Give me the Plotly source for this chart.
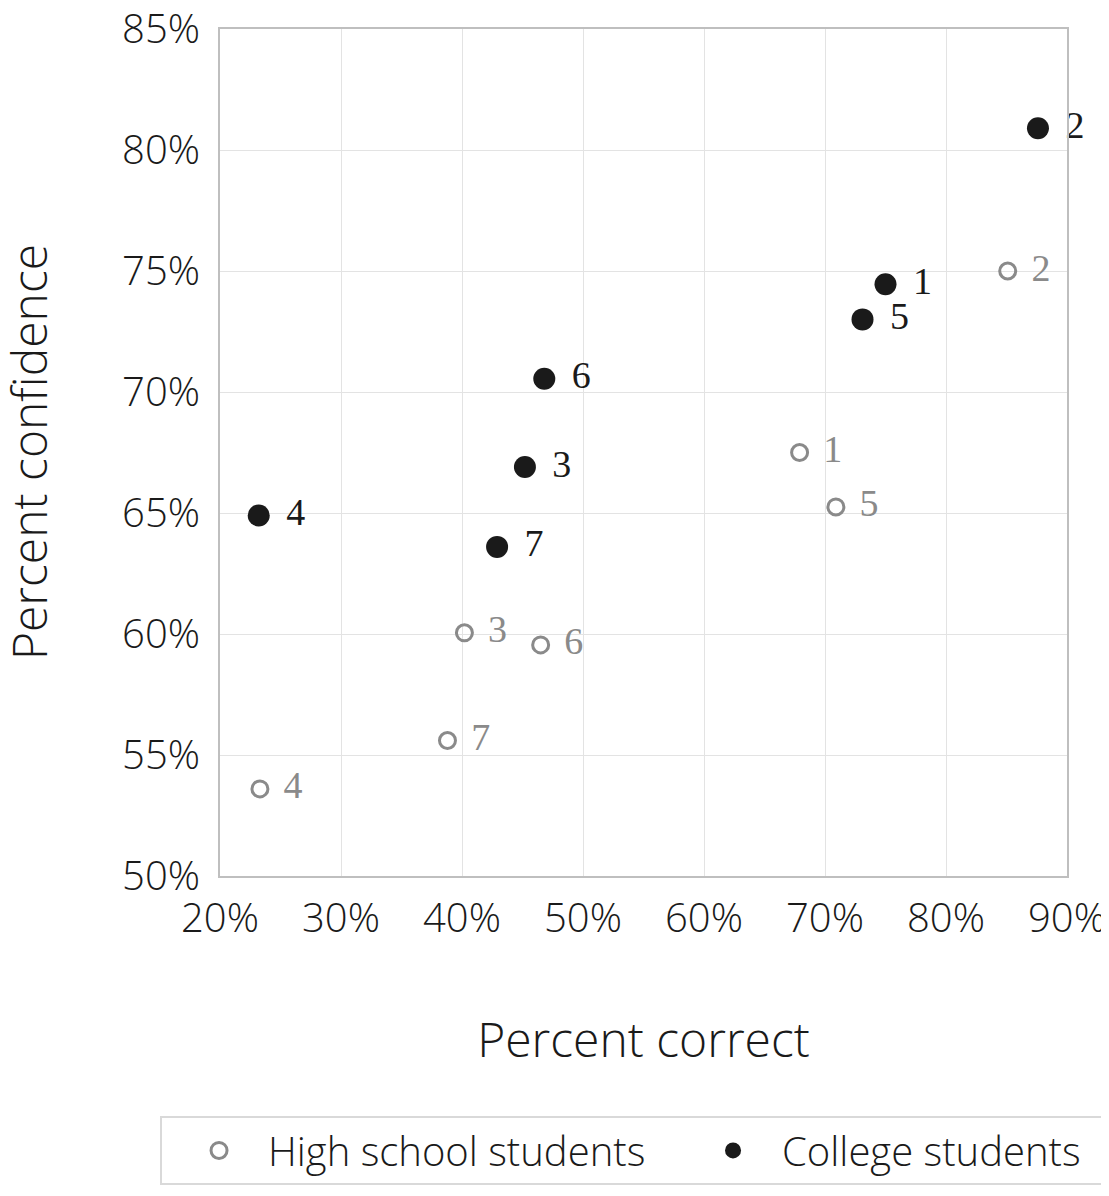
import plotly.graph_objects as go

point_labels = ["1", "2", "3", "4", "5", "6", "7"]

hs_correct = [67.9, 85.1, 40.2, 23.3, 70.9, 46.5, 38.8]
hs_confidence = [67.5, 75.0, 60.05, 53.6, 65.25, 59.55, 55.6]

col_correct = [75.0, 87.6, 45.2, 23.2, 73.1, 46.8, 42.9]
col_confidence = [74.45, 80.9, 66.9, 64.9, 73.0, 70.55, 63.6]

x_ticks = [20, 30, 40, 50, 60, 70, 80, 90]
y_ticks = [50, 55, 60, 65, 70, 75, 80, 85]

GRAY = "#8a8a8a"
BLACK = "#1a1a1a"
SP = "\u2004"
TICK_FONT = dict(family="Open Sans", size=40, color=BLACK, weight=350)
TITLE_FONT = dict(family="Open Sans", size=48, color=BLACK, weight=300)

fig = go.Figure()
fig.add_trace(go.Scatter(
    x=hs_correct, y=hs_confidence, mode="markers+text",
    name="High school students",
    text=[SP + t for t in point_labels], textposition="middle right",
    textfont=dict(family="Liberation Serif", size=38, color=GRAY),
    marker=dict(symbol="circle-open", size=16, color=GRAY, line=dict(width=3, color=GRAY)),
    cliponaxis=False,
))
fig.add_trace(go.Scatter(
    x=col_correct, y=col_confidence, mode="markers+text",
    name="College students",
    text=[SP + t for t in point_labels], textposition="middle right",
    textfont=dict(family="Liberation Serif", size=38, color=BLACK),
    marker=dict(symbol="circle", size=22, color=BLACK),
    cliponaxis=False,
))

axis_common = dict(
    showgrid=True, gridcolor="#e3e3e3", gridwidth=1,
    showline=True, linecolor="#bfbfbf", linewidth=2, mirror=True,
    zeroline=False, ticks="", automargin=False,
    ticklabeloverflow="allow",
    tickfont=TICK_FONT,
)

fig.update_xaxes(
    range=[20, 90], tickvals=x_ticks, ticktext=[f"{v}%" for v in x_ticks],
    title=dict(text="Percent correct", font=TITLE_FONT, standoff=80),
    ticklabelstandoff=6,
    **axis_common,
)
fig.update_yaxes(
    range=[50, 85], tickvals=y_ticks, ticktext=[f"{v}%" for v in y_ticks],
    ticklabelstandoff=10,
    **axis_common,
)

fig.add_annotation(
    text="Percent confidence", textangle=-90,
    xref="paper", yref="paper", x=-0.226, y=0.5,
    xanchor="center", yanchor="middle", showarrow=False,
    font=TITLE_FONT,
)

fig.update_layout(
    width=1109, height=1196,
    margin=dict(l=212, r=50, t=21, b=328, autoexpand=False),
    plot_bgcolor="white", paper_bgcolor="white",
    showlegend=True,
    legend=dict(
        orientation="h", x=-0.0708, xanchor="left", y=-0.2833, yanchor="top",
        font=dict(family="Open Sans", size=40, color=BLACK, weight=300),
        bordercolor="#d9d9d9", borderwidth=2, bgcolor="white",
        itemsizing="trace", itemwidth=88, indentation=8,
        entrywidth=403, entrywidthmode="pixels",
    ),
)

fig.write_html("out.html")
